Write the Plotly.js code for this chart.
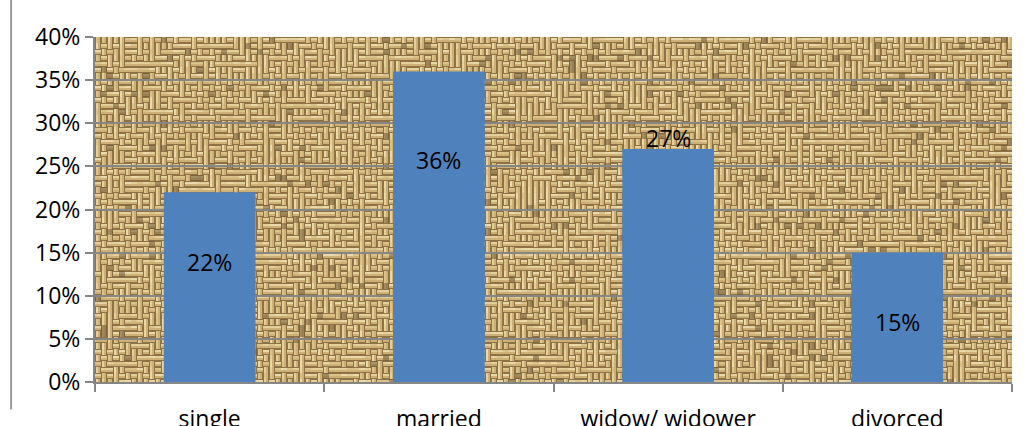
<!DOCTYPE html>
<html>
<head>
<meta charset="utf-8">
<script src="https://cdn.plot.ly/plotly-3.0.1.min.js"></script>
<style>
html,body{margin:0;padding:0;background:#fff;}
#chart{width:1024px;height:426px;}
</style>
</head>
<body>
<div id="chart"></div>
<script>
// ---- data ----
const categories = ["single", "married", "widow/ widower", "divorced"];
const shares = [0.22, 0.36, 0.27, 0.15];
const shareLabels = ["22%", "36%", "27%", "15%"];
const yTickValues = [0, 0.05, 0.10, 0.15, 0.20, 0.25, 0.30, 0.35, 0.40];

// ---- decorative burlap texture (deterministic) ----
function burlapTexture(w, h) {
  const c = document.createElement("canvas");
  c.width = w; c.height = h;
  const g = c.getContext("2d");
  g.fillStyle = "#b8965c";
  g.fillRect(0, 0, w, h);
  const cell = 6;
  function hash(a, b) {
    let x = (a * 374761393 + b * 668265263) | 0;
    x = (x ^ (x >>> 13)) * 1274126177;
    x = x ^ (x >>> 16);
    return (x >>> 0) / 4294967295;
  }
  for (let j = 0; j * cell < h; j++) {
    for (let i = 0; i * cell < w; i++) {
      const x = i * cell, y = j * cell;
      const r = hash(i, j);
      const horiz = ((i + j) % 2 === 0) !== (r < 0.3);
      const tone = hash(i + 101, j + 37);
      const light = tone < 0.5 ? "#eddba8" : (tone < 0.8 ? "#dfc890" : "#f4e7bd");
      g.fillStyle = "#7a5e37";
      g.fillRect(x, y, cell, cell);
      g.fillStyle = light;
      if (horiz) {
        g.fillRect(x, y + 1, cell, 2);
        g.fillStyle = "#cdb076";
        g.fillRect(x, y + 3, cell, 2);
      } else {
        g.fillRect(x + 1, y, 2, cell);
        g.fillStyle = "#cdb076";
        g.fillRect(x + 3, y, 2, cell);
      }
      if (hash(i + 7, j + 911) < 0.04) {
        g.fillStyle = "rgba(70,50,25,0.5)";
        g.fillRect(x, y, cell, cell);
      }
    }
  }
  g.fillStyle = "rgba(205,175,115,0.25)";
  g.fillRect(0, 0, w, h);
  return c.toDataURL("image/png");
}

const FONT = "Open Sans, Liberation Sans, sans-serif";
const FS = 23;
const labelShiftPx = [-70, -88, 11, -69];

const trace = {
  type: "bar",
  x: categories,
  y: shares,
  marker: { color: "#4f81bd" },
  width: 0.4,
  hoverinfo: "skip"
};

const layout = {
  width: 1024,
  height: 426,
  margin: { l: 95, r: 12, t: 37, b: 44 },
  paper_bgcolor: "#ffffff",
  plot_bgcolor: "#c3a468",
  showlegend: false,
  font: { family: FONT, size: FS, color: "#000" },
  xaxis: {
    type: "category",
    showline: true,
    linecolor: "#868686",
    linewidth: 2,
    ticks: "outside",
    tickson: "boundaries",
    ticklen: 8,
    tickwidth: 2,
    tickcolor: "#868686",
    ticklabelstandoff: 15,
    tickfont: { family: FONT, size: FS, color: "#000" },
    showgrid: false,
    fixedrange: true
  },
  yaxis: {
    range: [0, 0.40],
    tickvals: yTickValues,
    tickformat: ".0%",
    showline: true,
    linecolor: "#868686",
    linewidth: 2,
    ticks: "outside",
    ticklen: 8,
    tickwidth: 2,
    tickcolor: "#868686",
    showgrid: true,
    gridcolor: "#868686",
    gridwidth: 2,
    zeroline: false,
    tickfont: { family: FONT, size: FS, color: "#000" },
    fixedrange: true
  },
  images: [{
    source: burlapTexture(917, 345),
    xref: "paper", yref: "paper",
    x: 0, y: 1, sizex: 1, sizey: 1,
    xanchor: "left", yanchor: "top",
    sizing: "stretch",
    layer: "below"
  }],
  annotations: categories.map((c, i) => ({
    x: c, y: shares[i],
    text: shareLabels[i],
    showarrow: false,
    yanchor: "middle",
    yshift: labelShiftPx[i],
    font: { family: FONT, size: FS, color: "#000" }
  })),
  shapes: [{
    type: "line",
    xref: "paper", yref: "paper",
    x0: -0.0915, x1: -0.0915, y0: 1.107, y1: -0.08,
    line: { color: "#9a9a9a", width: 2 }
  }]
};

Plotly.newPlot("chart", [trace], layout, { displayModeBar: false, staticPlot: true });
</script>
</body>
</html>
